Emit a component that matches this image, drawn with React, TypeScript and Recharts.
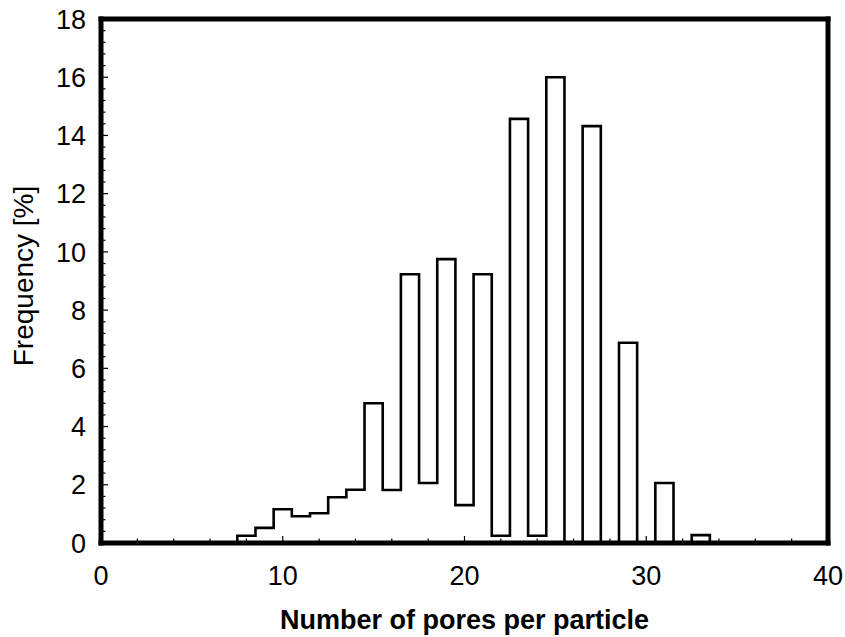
import React from 'react';
import { LineChart, Line, XAxis, YAxis, ReferenceLine } from 'recharts';

// Histogram bins (number of pores, bin width 1) and their frequencies in %
const binCenters = [8, 9, 10, 11, 12, 13, 14, 15, 16, 17, 18, 19, 20, 21, 22, 23, 24, 25, 26, 27, 28, 29, 30, 31, 32, 33];
const frequencies = [0.25, 0.52, 1.16, 0.92, 1.02, 1.57, 1.83, 4.8, 1.82, 9.23, 2.06, 9.75, 1.3, 9.23, 0.25, 14.57, 0.25, 16.0, 0, 14.32, 0, 6.88, 0, 2.06, 0, 0.27];

const xMajorTicks = [0, 10, 20, 30, 40];
const yMajorTicks = [0, 2, 4, 6, 8, 10, 12, 14, 16, 18];
const xMinorStep = 2;
const yMinorStep = 0.4;

const xTitle = 'Number of pores per particle';
const yTitle = 'Frequency [%]';

const FONT = "'Liberation Sans', Arial, Helvetica, sans-serif";
const BIN_WIDTH = 1;

// Step outline of the histogram: each point sits on a bin's left edge,
// closed back to zero on both ends.
const outline = [
  { x: binCenters[0] - BIN_WIDTH / 2, y: 0 },
  ...binCenters.map((c, i) => ({ x: c - BIN_WIDTH / 2, y: frequencies[i] })),
  { x: binCenters[binCenters.length - 1] + BIN_WIDTH / 2, y: 0 },
];

const xTicks = Array.from({ length: Math.round(40 / xMinorStep) + 1 }, (_, i) => i * xMinorStep);
const yTicks = Array.from({ length: Math.round(18 / yMinorStep) + 1 }, (_, i) => Number((i * yMinorStep).toFixed(1)));

const isMajor = (v: number, majors: number[]) => majors.some((m) => Math.abs(m - v) < 1e-6);

const XTick = (props: any) => {
  const { x, y, payload } = props;
  const v = payload.value;
  const major = isMajor(v, xMajorTicks);
  return (
    <g>
      <line x1={x} x2={x} y1={y} y2={y - (major ? 7 : 4.5)} stroke="#000" strokeWidth={1.2} />
      {major && (
        <text x={x} y={y + 41.5} textAnchor="middle" fontSize={27} fontFamily={FONT} fill="#000">
          {Math.round(v)}
        </text>
      )}
    </g>
  );
};

const YTick = (props: any) => {
  const { x, y, payload } = props;
  const v = payload.value;
  const major = isMajor(v, yMajorTicks);
  return (
    <g>
      <line x1={x} x2={x + (major ? 7 : 4.5)} y1={y} y2={y} stroke="#000" strokeWidth={1.2} />
      {major && (
        <text x={x - 15} y={y + 9.7} textAnchor="end" fontSize={27} fontFamily={FONT} fill="#000">
          {Math.round(v)}
        </text>
      )}
    </g>
  );
};

const XTitle = (props: any) => {
  const vb = props.viewBox;
  return (
    <text x={vb.x + vb.width / 2} y={vb.y + 86} textAnchor="middle" fontSize={27} fontWeight="bold" fontFamily={FONT} fill="#000">
      {xTitle}
    </text>
  );
};

const YTitle = (props: any) => {
  const vb = props.viewBox;
  const cx = 23;
  const cy = vb.y + vb.height / 2 - 5;
  return (
    <text x={cx} y={cy} dy="0.358em" textAnchor="middle" transform={`rotate(-90, ${cx}, ${cy})`} fontSize={28} fontFamily={FONT} fill="#000">
      {yTitle}
    </text>
  );
};

const frame = { stroke: '#000', strokeWidth: 5, strokeLinecap: 'square' as const };

export default function App() {
  return (
    <div style={{ position: 'absolute', left: 0, top: 0, width: 845, height: 637, background: '#fff' }}>
      <LineChart width={845} height={637} data={outline} margin={{ top: 19, right: 17, bottom: 0, left: 0 }}>
        <XAxis
          dataKey="x"
          type="number"
          domain={[0, 40]}
          ticks={xTicks}
          interval={0}
          height={94}
          tickSize={0}
          tickMargin={0}
          tickLine={false}
          tick={<XTick />}
          axisLine={frame}
          label={<XTitle />}
        />
        <YAxis
          type="number"
          domain={[0, 18]}
          ticks={yTicks}
          interval={0}
          width={101}
          tickSize={0}
          tickMargin={0}
          tickLine={false}
          tick={<YTick />}
          axisLine={frame}
          label={<YTitle />}
        />
        <ReferenceLine y={18} {...frame} />
        <ReferenceLine x={40} {...frame} />
        <Line
          dataKey="y"
          type="stepAfter"
          stroke="#000"
          strokeWidth={2.6}
          strokeLinejoin="miter"
          dot={false}
          activeDot={false}
          isAnimationActive={false}
        />
      </LineChart>
    </div>
  );
}
